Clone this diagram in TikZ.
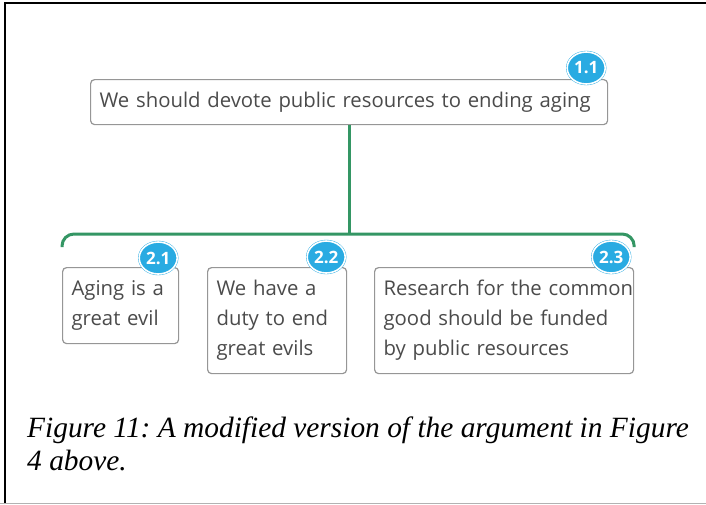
\documentclass[tikz,border=0pt]{standalone}
\usepackage{fontspec}
\setmainfont{Liberation Serif}
\newfontfamily\mapfont{Open Sans}
\usetikzlibrary{shapes.geometric}
\definecolor{mapgreen}{RGB}{52,150,100}
\definecolor{tagblue}{RGB}{41,171,226}
\definecolor{boxgrey}{RGB}{150,150,150}
\definecolor{textgrey}{RGB}{75,75,75}
\tikzset{
  claim/.style={draw=boxgrey, line width=1.2pt, rounded corners=4pt, fill=white,
    align=left, anchor=north west, inner xsep=9pt, inner ysep=0pt,
    font=\mapfont\fontsize{20.3}{30}\selectfont, text=textgrey},
  tag/.style={ellipse, fill=tagblue, draw=tagblue, double=white, double distance=1.6pt,
    minimum width=38pt, minimum height=32pt, inner sep=0pt, text=white,
    font=\mapfont\bfseries\fontsize{17}{17}\selectfont},
  link/.style={draw=mapgreen, line width=3pt}
}
\begin{document}
\begin{tikzpicture}[x=1pt, y=-1pt]
	\useasboundingbox (0,0) rectangle (706,504);
	% frame
	\draw[line width=2pt] (4.5,504) -- (4.5,2.5) -- (706,2.5);
	\draw[gray!60, line width=1pt] (0,503) -- (706,503);
	% claims
	\node[claim, text width=499pt, minimum height=45pt] (top) at (90,79) {We should devote public resources to ending aging};
	\node[claim, text width=98pt, minimum height=76pt] (b1) at (62,267) {Aging is a\\great evil};
	\node[claim, text width=121pt, minimum height=106pt] (b2) at (207,267) {We have a\\duty to end\\great evils};
	\node[claim, text width=241pt, minimum height=106pt] (b3) at (374,267) {\mbox{Research for the common}\\good should be funded\\by public resources};
	% tags
	\node[tag] (t11) at ([xshift=-22pt,yshift=11pt]top.north east) {1.1};
	\node[tag] (t21) at ([xshift=-21pt,yshift=9pt]b1.north east) {2.1};
	\node[tag] (t22) at ([xshift=-21pt,yshift=10pt]b2.north east) {2.2};
	\node[tag] (t23) at ([xshift=-23pt,yshift=10pt]b3.north east) {2.3};
	% links
	\coordinate (fork) at (top.south |- 0,234);
	\draw[link] (top.south) -- (fork);
	\draw[link, rounded corners=12pt] ([yshift=20pt]b1.north west) |- (fork) -| ([yshift=20pt]b3.north east);
	% caption
	\node[anchor=north west, align=left, inner sep=0pt, font=\itshape\frenchspacing\fontsize{29.4}{33}\selectfont] (cap) at (27,416.5)
		{Figure 11: A modified version of the argument in Figure\\4 above.};
\end{tikzpicture}
\end{document}
